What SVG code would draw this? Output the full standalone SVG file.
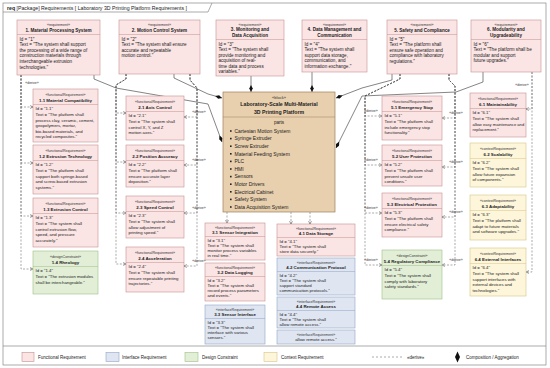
<svg xmlns="http://www.w3.org/2000/svg" width="550" height="368" viewBox="0 0 550 368">
<style>
text{font-family:"Liberation Sans",Arial,sans-serif;fill:#222}
.st{font-size:3.6px;text-anchor:middle;fill:#333}
.tt{font-size:4.4px;font-weight:bold;text-anchor:middle}
.tb{font-size:4.6px;font-weight:bold;text-anchor:middle}
.bd{font-size:4.3px}
.bt{font-size:4.6px}
.lb{font-size:3.5px;fill:#333;text-anchor:middle}
.lg{font-size:4.5px}
.fr{fill:#fbe4e4;stroke:#c58f8f;stroke-width:.6}
.ir{fill:#dfe6f2;stroke:#8fa5c6;stroke-width:.6}
.dc{fill:#e2efd6;stroke:#9fbe86;stroke-width:.6}
.cr{fill:#fdf6da;stroke:#d6c585;stroke-width:.6}
.bk{fill:#e8cfad;stroke:#9e7f5c;stroke-width:.7}
.dvf{stroke:#c58f8f;stroke-width:.5}
.dvi{stroke:#8fa5c6;stroke-width:.5}
.dvd{stroke:#9fbe86;stroke-width:.5}
.dvc{stroke:#d6c585;stroke-width:.5}
.dr{fill:none;stroke:#555;stroke-width:.5;stroke-dasharray:2 1.5;marker-end:url(#oa)}
.cp{fill:none;stroke:#333;stroke-width:.6;marker-end:url(#dm)}
.frm{fill:none;stroke:#888;stroke-width:.7}
</style>
<defs>
<marker id="oa" viewBox="0 0 6 6" refX="5.5" refY="3" markerWidth="3.5" markerHeight="3.5" orient="auto" markerUnits="userSpaceOnUse"><path d="M0.5,0.5 L5.5,3 L0.5,5.5" fill="none" stroke="#444" stroke-width="0.9"/></marker>
<marker id="dm" viewBox="0 0 12 6" refX="12" refY="3" markerWidth="7" markerHeight="3.5" orient="auto" markerUnits="userSpaceOnUse"><path d="M0,3 L6,0 L12,3 L6,6Z" fill="#111"/></marker>
</defs>
<rect x="0" y="0" width="550" height="368" fill="#fff"/>
<g id="frame">
<rect class="frm" x="3" y="3" width="543" height="362"/>
<path class="frm" d="M3,12 H208 L212,3"/>
<line class="frm" x1="3" y1="346" x2="546" y2="346"/>
<text x="7" y="9.5" style="font-size:5.2px"><tspan font-weight="bold">req</tspan> [Package] Requirements [ Laboratory 3D Printing Platform Requirements ]</text>
</g>

<g id="connectors">
<path class="dr" d="M21,75 V107 H33"/>
<path class="dr" d="M21,75 V163 H33"/>
<path class="dr" d="M21,75 V216 H33"/>
<path class="dr" d="M21,75 V269 H33"/>
<text class="lb" x="32" y="84">«derive»</text>
<path class="dr" d="M126,74 V79 L116,85 V113 H126"/>
<path class="dr" d="M126,74 V79 L116,85 V162 H126"/>
<path class="dr" d="M126,74 V79 L116,85 V213 H126"/>
<path class="dr" d="M126,74 V79 L116,85 V264 H126"/>
<path class="dr" d="M190,74 V80 L197,88 V117 H184"/>
<path class="dr" d="M190,74 V80 L197,88 V165 H184"/>
<path class="dr" d="M190,74 V80 L197,88 V213 H184"/>
<path class="dr" d="M190,74 V80 L197,88 V266 H184"/>
<text class="lb" x="199" y="113">«derive»</text>
<text class="lb" x="199" y="161">«derive»</text>
<text class="lb" x="199" y="209">«derive»</text>
<text class="lb" x="199" y="262">«derive»</text>
<path class="dr" d="M227,212 V223"/>
<path class="dr" d="M291,212 V224"/>
<path class="dr" d="M310,212 V224"/>
<path class="dr" d="M400,74 V79 L365,96 V116 H382"/>
<path class="dr" d="M400,74 V79 L365,96 V165 H382"/>
<path class="dr" d="M400,74 V79 L365,96 V213 H382"/>
<path class="dr" d="M400,74 V79 L365,96 V265 H382"/>
<text class="lb" x="371" y="112">«derive»</text>
<text class="lb" x="371" y="161">«derive»</text>
<text class="lb" x="371" y="209">«derive»</text>
<text class="lb" x="371" y="261">«derive»</text>
<path class="dr" d="M449,74 V80 L455,86 V118 H442"/>
<path class="dr" d="M449,74 V80 L455,86 V167 H442"/>
<path class="dr" d="M449,74 V80 L455,86 V217 H442"/>
<path class="dr" d="M449,74 V80 L455,86 V265 H442"/>
<text class="lb" x="456" y="114">«derive»</text>
<text class="lb" x="456" y="163">«derive»</text>
<text class="lb" x="456" y="213">«derive»</text>
<text class="lb" x="456" y="261">«derive»</text>
<path class="dr" d="M532,72 V109 H526"/>
<path class="dr" d="M532,72 V272 H526"/>
<text class="lb" x="522" y="86">«derive»</text>
<path class="cp" d="M94,75 V79 L116,88 L208,104 L222,142"/>
<path class="cp" d="M174,74 V78 L208,94 L222,98"/>
<path class="cp" d="M251,76 V92"/>
<path class="cp" d="M312,72 V92"/>
<path class="cp" d="M392,74 V80 L362,88 L336,98"/>
<path class="cp" d="M483,72 V82 L456,92 L362,96 L336,148"/>
</g>

<g id="req1">
<rect class="fr" x="17" y="20" width="83" height="55"/>
<line class="dvf" x1="17" y1="34.5" x2="100" y2="34.5"/>
<text class="st" x="58.5" y="25.5">«requirement»</text>
<text class="tb" x="58.5" y="31.5">1. Material Processing System</text>
<text class="bt" x="19.5" y="40.5">Id = "1"</text>
<text class="bt" x="19.5" y="46">Text = "The system shall support</text>
<text class="bt" x="19.5" y="51.7">the processing of a wide range of</text>
<text class="bt" x="19.5" y="57.4">construction materials through</text>
<text class="bt" x="19.5" y="63.1">interchangeable extrusion</text>
<text class="bt" x="19.5" y="68.8">technologies."</text>
</g>
<g id="req2">
<rect class="fr" x="119" y="20" width="81" height="54"/>
<line class="dvf" x1="119" y1="34.5" x2="200" y2="34.5"/>
<text class="st" x="159.5" y="25.5">«requirement»</text>
<text class="tb" x="159.5" y="31.5">2. Motion Control System</text>
<text class="bt" x="121.5" y="40.5">Id = "2"</text>
<text class="bt" x="121.5" y="46">Text = "The system shall ensure</text>
<text class="bt" x="121.5" y="51.7">accurate and repeatable</text>
<text class="bt" x="121.5" y="57.4">motion control."</text>
</g>
<g id="req3">
<rect class="fr" x="216" y="20" width="68" height="56"/>
<line class="dvf" x1="216" y1="39.5" x2="284" y2="39.5"/>
<text class="st" x="250" y="25.5">«requirement»</text>
<text class="tb" x="250" y="31.3">3. Monitoring and</text>
<text class="tb" x="250" y="36.6">Data Acquisition</text>
<text class="bt" x="218.5" y="45.5">Id = "3"</text>
<text class="bt" x="218.5" y="51">Text = "The system shall</text>
<text class="bt" x="218.5" y="56.5">provide monitoring and</text>
<text class="bt" x="218.5" y="62">acquisition of real-</text>
<text class="bt" x="218.5" y="67.5">time data and process</text>
<text class="bt" x="218.5" y="73">variables."</text>
</g>
<g id="req4">
<rect class="fr" x="302" y="20" width="65" height="52"/>
<line class="dvf" x1="302" y1="39.5" x2="367" y2="39.5"/>
<text class="st" x="334.5" y="25.5">«requirement»</text>
<text class="tb" x="334.5" y="31.3">4. Data Management and</text>
<text class="tb" x="334.5" y="36.6">Communication</text>
<text class="bt" x="304.5" y="45.5">Id = "4"</text>
<text class="bt" x="304.5" y="51">Text = "The system shall</text>
<text class="bt" x="304.5" y="56.5">support data storage,</text>
<text class="bt" x="304.5" y="62">communication, and</text>
<text class="bt" x="304.5" y="67.5">information exchange."</text>
</g>
<g id="req5">
<rect class="fr" x="387" y="20" width="70" height="54"/>
<line class="dvf" x1="387" y1="34.5" x2="457" y2="34.5"/>
<text class="st" x="422" y="25.5">«requirement»</text>
<text class="tb" x="422" y="31.5">5. Safety and Compliance</text>
<text class="bt" x="389.5" y="40.5">Id = "5"</text>
<text class="bt" x="389.5" y="46">Text = "The platform shall</text>
<text class="bt" x="389.5" y="51.7">ensure safe operation and</text>
<text class="bt" x="389.5" y="57.4">compliance with laboratory</text>
<text class="bt" x="389.5" y="63.1">regulations."</text>
</g>
<g id="req6">
<rect class="fr" x="471" y="20" width="70" height="52"/>
<line class="dvf" x1="471" y1="39.5" x2="541" y2="39.5"/>
<text class="st" x="506" y="25.5">«requirement»</text>
<text class="tb" x="506" y="31.3">6. Modularity and</text>
<text class="tb" x="506" y="36.6">Upgradeability</text>
<text class="bt" x="473.5" y="45.5">Id = "6"</text>
<text class="bt" x="473.5" y="51">Text = "The platform shall be</text>
<text class="bt" x="473.5" y="56.5">modular and support</text>
<text class="bt" x="473.5" y="62">future upgrades."</text>
</g>

<g id="req1_1">
<rect class="fr" x="33" y="89" width="65" height="53"/>
<line class="dvf" x1="33" y1="104.5" x2="98" y2="104.5"/>
<text class="st" x="65.5" y="95.5">«functionalRequirement»</text>
<text class="tt" x="65.5" y="101.5">1.1 Material Compatibility</text>
<text class="bd" x="35.5" y="110">Id = "1.1"</text>
<text class="bd" x="35.5" y="116">Text = "The platform shall</text>
<text class="bd" x="35.5" y="121.5">process clay, ceramic, cement,</text>
<text class="bd" x="35.5" y="127">geopolymers, mortar,</text>
<text class="bd" x="35.5" y="132.5">bio-based materials, and</text>
<text class="bd" x="35.5" y="138">recycled composites."</text>
</g>
<g id="req1_2">
<rect class="fr" x="33" y="145" width="65" height="49"/>
<line class="dvf" x1="33" y1="160.5" x2="98" y2="160.5"/>
<text class="st" x="65.5" y="151.5">«functionalRequirement»</text>
<text class="tt" x="65.5" y="157.5">1.2 Extrusion Technology</text>
<text class="bd" x="35.5" y="166">Id = "1.2"</text>
<text class="bd" x="35.5" y="172">Text = "The platform shall</text>
<text class="bd" x="35.5" y="177.5">support both syringe-based</text>
<text class="bd" x="35.5" y="183">and screw-based extrusion</text>
<text class="bd" x="35.5" y="188.5">systems."</text>
</g>
<g id="req1_3">
<rect class="fr" x="33" y="198" width="65" height="49"/>
<line class="dvf" x1="33" y1="213.5" x2="98" y2="213.5"/>
<text class="st" x="65.5" y="204.5">«functionalRequirement»</text>
<text class="tt" x="65.5" y="210.5">1.3 Extrusion Control</text>
<text class="bd" x="35.5" y="219">Id = "1.3"</text>
<text class="bd" x="35.5" y="225">Text = "The system shall</text>
<text class="bd" x="35.5" y="230.5">control extrusion flow,</text>
<text class="bd" x="35.5" y="236">speed, and pressure</text>
<text class="bd" x="35.5" y="241.5">accurately."</text>
</g>
<g id="req1_4">
<rect class="dc" x="33" y="251" width="65" height="43"/>
<line class="dvd" x1="33" y1="266.5" x2="98" y2="266.5"/>
<text class="st" x="65.5" y="257.5">«designConstraint»</text>
<text class="tt" x="65.5" y="263.5">1.4 Rheology</text>
<text class="bd" x="35.5" y="272">Id = "1.4"</text>
<text class="bd" x="35.5" y="278">Text = "The extrusion modules</text>
<text class="bd" x="35.5" y="283.5">shall be interchangeable."</text>
</g>

<g id="req2_1">
<rect class="fr" x="126" y="96" width="58" height="44"/>
<line class="dvf" x1="126" y1="111.5" x2="184" y2="111.5"/>
<text class="st" x="155" y="102.5">«functionalRequirement»</text>
<text class="tt" x="155" y="108.5">2.1 Axis Control</text>
<text class="bd" x="128.5" y="117">Id = "2.1"</text>
<text class="bd" x="128.5" y="123">Text = "The system shall</text>
<text class="bd" x="128.5" y="128.5">control X, Y, and Z</text>
<text class="bd" x="128.5" y="134">motion axes."</text>
</g>
<g id="req2_2">
<rect class="fr" x="126" y="145" width="58" height="42"/>
<line class="dvf" x1="126" y1="160.5" x2="184" y2="160.5"/>
<text class="st" x="155" y="151.5">«functionalRequirement»</text>
<text class="tt" x="155" y="157.5">2.2 Position Accuracy</text>
<text class="bd" x="128.5" y="166">Id = "2.2"</text>
<text class="bd" x="128.5" y="172">Text = "The platform shall</text>
<text class="bd" x="128.5" y="177.5">ensure accurate layer</text>
<text class="bd" x="128.5" y="183">deposition."</text>
</g>
<g id="req2_3">
<rect class="fr" x="126" y="196" width="58" height="42"/>
<line class="dvf" x1="126" y1="211.5" x2="184" y2="211.5"/>
<text class="st" x="155" y="202.5">«functionalRequirement»</text>
<text class="tt" x="155" y="208.5">2.3 Speed Control</text>
<text class="bd" x="128.5" y="217">Id = "2.3"</text>
<text class="bd" x="128.5" y="223">Text = "The system shall</text>
<text class="bd" x="128.5" y="228.5">allow adjustment of</text>
<text class="bd" x="128.5" y="234">printing speed."</text>
</g>
<g id="req2_4">
<rect class="fr" x="126" y="247" width="58" height="45"/>
<line class="dvf" x1="126" y1="262.5" x2="184" y2="262.5"/>
<text class="st" x="155" y="253.5">«functionalRequirement»</text>
<text class="tt" x="155" y="259.5">2.4 Acceleration</text>
<text class="bd" x="128.5" y="268">Id = "2.4"</text>
<text class="bd" x="128.5" y="274">Text = "The system shall</text>
<text class="bd" x="128.5" y="279.5">ensure repeatable printing</text>
<text class="bd" x="128.5" y="285">trajectories."</text>
</g>

<g id="block">
<rect class="bk" x="223" y="92" width="112" height="120"/>
<line x1="223" y1="117" x2="335" y2="117" stroke="#9e7f5c" stroke-width=".5"/>
<text class="st" x="279" y="98.8" style="font-size:4px">«block»</text>
<text x="279" y="105.8" style="font-size:5.2px;font-weight:bold;text-anchor:middle">Laboratory-Scale Multi-Material</text>
<text x="279" y="113.6" style="font-size:5.2px;font-weight:bold;text-anchor:middle">3D Printing Platform</text>
<text x="279" y="123.8" style="font-size:4.6px;text-anchor:middle">parts</text>
<g fill="#222">
<rect x="230" y="130.2" width="1.6" height="1.6"/><rect x="230" y="137.8" width="1.6" height="1.6"/><rect x="230" y="145.4" width="1.6" height="1.6"/><rect x="230" y="153" width="1.6" height="1.6"/><rect x="230" y="160.6" width="1.6" height="1.6"/><rect x="230" y="168.2" width="1.6" height="1.6"/><rect x="230" y="175.8" width="1.6" height="1.6"/><rect x="230" y="183.4" width="1.6" height="1.6"/><rect x="230" y="191" width="1.6" height="1.6"/><rect x="230" y="198.6" width="1.6" height="1.6"/><rect x="230" y="206.2" width="1.6" height="1.6"/>
</g>
<g style="font-size:5px">
<text x="234.5" y="132.8">Cartesian Motion System</text>
<text x="234.5" y="140.4">Syringe Extruder</text>
<text x="234.5" y="148">Screw Extruder</text>
<text x="234.5" y="155.6">Material Feeding System</text>
<text x="234.5" y="163.2">PLC</text>
<text x="234.5" y="170.8">HMI</text>
<text x="234.5" y="178.4">Sensors</text>
<text x="234.5" y="186">Motor Drivers</text>
<text x="234.5" y="193.6">Electrical Cabinet</text>
<text x="234.5" y="201.2">Safety System</text>
<text x="234.5" y="208.8">Data Acquisition System</text>
</g>
</g>

<g id="req3_1">
<rect class="fr" x="205" y="223" width="60" height="37"/>
<line class="dvf" x1="205" y1="236.5" x2="265" y2="236.5"/>
<text class="st" x="235" y="228.5">«functionalRequirement»</text>
<text class="tt" x="235" y="234">3.1 Sensor Integration</text>
<text class="bd" x="207.5" y="241.5">Id = "3.1"</text>
<text class="bd" x="207.5" y="246.7">Text = "The system shall</text>
<text class="bd" x="207.5" y="251.9">monitor process variables</text>
<text class="bd" x="207.5" y="257.1">in real time."</text>
</g>
<g id="req3_2">
<rect class="fr" x="205" y="263" width="60" height="38"/>
<line class="dvf" x1="205" y1="276.5" x2="265" y2="276.5"/>
<text class="st" x="235" y="268.5">«functionalRequirement»</text>
<text class="tt" x="235" y="274">3.2 Data Logging</text>
<text class="bd" x="207.5" y="281.5">Id = "3.2"</text>
<text class="bd" x="207.5" y="286.7">Text = "The system shall</text>
<text class="bd" x="207.5" y="291.9">record process parameters</text>
<text class="bd" x="207.5" y="297.1">and events."</text>
</g>
<g id="req3_3">
<rect class="ir" x="205" y="305" width="60" height="39"/>
<line class="dvi" x1="205" y1="318.5" x2="265" y2="318.5"/>
<text class="st" x="235" y="310.5">«interfaceRequirement»</text>
<text class="tt" x="235" y="316">3.3 Sensor Interface</text>
<text class="bd" x="207.5" y="323.5">Id = "3.3"</text>
<text class="bd" x="207.5" y="328.7">Text = "The system shall</text>
<text class="bd" x="207.5" y="333.9">interface with various</text>
<text class="bd" x="207.5" y="339.1">sensors."</text>
</g>

<g id="req4_1">
<rect class="fr" x="277" y="224" width="78" height="32"/>
<line class="dvf" x1="277" y1="237.5" x2="355" y2="237.5"/>
<text class="st" x="316" y="229.5">«functionalRequirement»</text>
<text class="tt" x="316" y="235">4.1 Data Storage</text>
<text class="bd" x="279.5" y="242.5">Id = "4.1"</text>
<text class="bd" x="279.5" y="247.7">Text = "The system shall</text>
<text class="bd" x="279.5" y="252.9">store data securely."</text>
</g>
<g id="req4_2">
<rect class="ir" x="277" y="258" width="78" height="37"/>
<line class="dvi" x1="277" y1="271.5" x2="355" y2="271.5"/>
<text class="st" x="316" y="263.5">«interfaceRequirement»</text>
<text class="tt" x="316" y="269">4.2 Communication Protocol</text>
<text class="bd" x="279.5" y="276.5">Id = "4.2"</text>
<text class="bd" x="279.5" y="281.7">Text = "The system shall</text>
<text class="bd" x="279.5" y="286.9">support standard</text>
<text class="bd" x="279.5" y="292.1">communication protocols."</text>
</g>
<g id="req4_4">
<rect class="ir" x="277" y="297" width="78" height="31"/>
<line class="dvi" x1="277" y1="310.5" x2="355" y2="310.5"/>
<text class="st" x="316" y="302.5">«interfaceRequirement»</text>
<text class="tt" x="316" y="308">4.4 Remote Access</text>
<text class="bd" x="279.5" y="315.5">Id = "4.4"</text>
<text class="bd" x="279.5" y="320.7">Text = "The system shall</text>
<text class="bd" x="279.5" y="325.9">allow remote access."</text>
</g>
<g id="req4_4_note">
<rect class="ir" x="277" y="330" width="78" height="14"/>
<text class="st" x="316" y="335.5">«interfaceRequirement»</text>
<text class="bd" x="316" y="341" text-anchor="middle">allow remote access."</text>
</g>

<g id="req5_1">
<rect class="fr" x="382" y="96" width="60" height="44"/>
<line class="dvf" x1="382" y1="111.5" x2="442" y2="111.5"/>
<text class="st" x="412" y="102.5">«functionalRequirement»</text>
<text class="tt" x="412" y="108.5">5.1 Emergency Stop</text>
<text class="bd" x="384.5" y="117">Id = "5.1"</text>
<text class="bd" x="384.5" y="123">Text = "The platform shall</text>
<text class="bd" x="384.5" y="128.5">include emergency stop</text>
<text class="bd" x="384.5" y="134">functionality."</text>
</g>
<g id="req5_2">
<rect class="fr" x="382" y="145" width="60" height="41"/>
<line class="dvf" x1="382" y1="160.5" x2="442" y2="160.5"/>
<text class="st" x="412" y="151.5">«functionalRequirement»</text>
<text class="tt" x="412" y="157.5">5.2 User Protection</text>
<text class="bd" x="384.5" y="166">Id = "5.2"</text>
<text class="bd" x="384.5" y="172">Text = "The platform shall</text>
<text class="bd" x="384.5" y="177.5">prevent unsafe user</text>
<text class="bd" x="384.5" y="183">conditions."</text>
</g>
<g id="req5_3">
<rect class="fr" x="382" y="193" width="60" height="44"/>
<line class="dvf" x1="382" y1="208.5" x2="442" y2="208.5"/>
<text class="st" x="412" y="199.5">«functionalRequirement»</text>
<text class="tt" x="412" y="205.5">5.3 Electrical Protection</text>
<text class="bd" x="384.5" y="214">Id = "5.3"</text>
<text class="bd" x="384.5" y="220">Text = "The platform shall</text>
<text class="bd" x="384.5" y="225.5">ensure electrical safety</text>
<text class="bd" x="384.5" y="231">compliance."</text>
</g>
<g id="req5_4">
<rect class="dc" x="382" y="250" width="60" height="49"/>
<line class="dvd" x1="382" y1="265.5" x2="442" y2="265.5"/>
<text class="st" x="412" y="256.5">«designConstraint»</text>
<text class="tt" x="412" y="262.5">5.4 Regulatory Compliance</text>
<text class="bd" x="384.5" y="271">Id = "5.4"</text>
<text class="bd" x="384.5" y="277">Text = "The system shall</text>
<text class="bd" x="384.5" y="282.5">comply with laboratory</text>
<text class="bd" x="384.5" y="288">safety standards."</text>
</g>

<g id="req6_1">
<rect class="fr" x="470" y="93" width="56" height="44"/>
<line class="dvf" x1="470" y1="108.5" x2="526" y2="108.5"/>
<text class="st" x="498" y="99.5">«functionalRequirement»</text>
<text class="tt" x="498" y="105.5">6.1 Maintainability</text>
<text class="bd" x="472.5" y="114">Id = "6.1"</text>
<text class="bd" x="472.5" y="120">Text = "The system shall</text>
<text class="bd" x="472.5" y="125.5" style="font-size:4.1px">allow easy maintenance and</text>
<text class="bd" x="472.5" y="131">replacement."</text>
</g>
<g id="req6_2">
<rect class="cr" x="470" y="143" width="56" height="44"/>
<line class="dvc" x1="470" y1="158.5" x2="526" y2="158.5"/>
<text class="st" x="498" y="149.5">«contextRequirement»</text>
<text class="tt" x="498" y="155.5">6.2 Scalability</text>
<text class="bd" x="472.5" y="164">Id = "6.2"</text>
<text class="bd" x="472.5" y="170">Text = "The system shall</text>
<text class="bd" x="472.5" y="175.5">allow future expansion</text>
<text class="bd" x="472.5" y="181">of components."</text>
</g>
<g id="req6_3">
<rect class="cr" x="470" y="195" width="56" height="45"/>
<line class="dvc" x1="470" y1="210.5" x2="526" y2="210.5"/>
<text class="st" x="498" y="201.5">«contextRequirement»</text>
<text class="tt" x="498" y="207.5">6.3 Adaptability</text>
<text class="bd" x="472.5" y="216">Id = "6.3"</text>
<text class="bd" x="472.5" y="222">Text = "The platform shall</text>
<text class="bd" x="472.5" y="227.5">adapt to future materials</text>
<text class="bd" x="472.5" y="233">and software upgrades."</text>
</g>
<g id="req6_4">
<rect class="cr" x="470" y="248" width="56" height="48"/>
<line class="dvc" x1="470" y1="263.5" x2="526" y2="263.5"/>
<text class="st" x="498" y="254.5">«contextRequirement»</text>
<text class="tt" x="498" y="260.5">6.4 External Interfaces</text>
<text class="bd" x="472.5" y="269">Id = "6.4"</text>
<text class="bd" x="472.5" y="275">Text = "The system shall</text>
<text class="bd" x="472.5" y="280.5">support interfaces with</text>
<text class="bd" x="472.5" y="286">external devices and</text>
<text class="bd" x="472.5" y="291.5">technologies."</text>
</g>

<g id="legend">
<rect class="fr" x="22" y="352.5" width="12" height="9"/>
<text class="lg" x="38" y="358.6">Functional Requirement</text>
<rect class="ir" x="106" y="352.5" width="13" height="9"/>
<text class="lg" x="122" y="358.6">Interface Requirement</text>
<rect class="dc" x="185" y="352.5" width="13" height="9"/>
<text class="lg" x="202" y="358.6">Design Constraint</text>
<rect class="cr" x="264" y="352.5" width="13" height="9"/>
<text class="lg" x="281" y="358.6">Context Requirement</text>
<line x1="372" y1="357" x2="402" y2="357" stroke="#555" stroke-width=".5" stroke-dasharray="2 2"/>
<text class="lg" x="407" y="358.6">«derive»</text>
<path d="M457.5,351.5 L460,357 L457.5,362.5 L455,357Z" fill="#111"/>
<text class="lg" x="466" y="358.6">Composition / Aggregation</text>
</g>
</svg>
